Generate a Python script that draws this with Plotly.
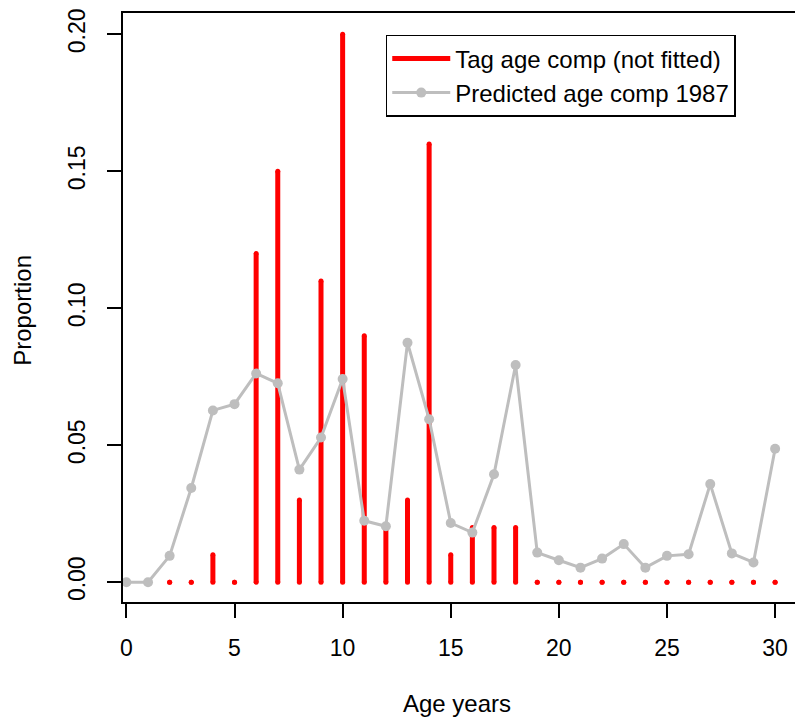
import plotly.graph_objects as go

ages = list(range(0, 31))
tag_ages = list(range(2, 31))
tag_comp = [0.00, 0.00, 0.01, 0.00, 0.12, 0.15, 0.03, 0.11, 0.20, 0.09,
            0.02, 0.03, 0.16, 0.01, 0.02, 0.02, 0.02, 0.00, 0.00, 0.00,
            0.00, 0.00, 0.00, 0.00, 0.00, 0.00, 0.00, 0.00, 0.00]
pred_comp = [0.000, 0.000, 0.0096, 0.0344, 0.0627, 0.0650, 0.0762, 0.0726,
             0.0411, 0.0528, 0.0742, 0.0224, 0.0204, 0.0874, 0.0595, 0.0216,
             0.0181, 0.0394, 0.0793, 0.0108, 0.0080, 0.0053, 0.0086, 0.0139,
             0.0053, 0.0096, 0.0102, 0.0358, 0.0105, 0.0072, 0.0487]
x_ticks = [0, 5, 10, 15, 20, 25, 30]
y_ticks = [0.00, 0.05, 0.10, 0.15, 0.20]
y_tick_labels = ["0.00", "0.05", "0.10", "0.15", "0.20"]

RED = "#FF0000"
GREY = "#BEBEBE"
FONT = "Liberation Sans, Arial, sans-serif"

# build vertical spikes (type="h")
bx, by = [], []
for a, v in zip(tag_ages, tag_comp):
    bx += [a, a, None]
    by += [0, v, None]

fig = go.Figure()
fig.add_trace(go.Scatter(x=bx, y=by, mode="lines", name="Tag age comp (not fitted)",
                         line=dict(color=RED, width=5), legendgroup="tag",
                         hoverinfo="skip"))
fig.add_trace(go.Scatter(x=bx, y=by, mode="markers", showlegend=False,
                         marker=dict(color=RED, size=5, line=dict(width=0)),
                         legendgroup="tag", hoverinfo="skip"))
fig.add_trace(go.Scatter(x=ages, y=pred_comp, mode="lines+markers",
                         name="Predicted age comp 1987",
                         line=dict(color=GREY, width=3),
                         marker=dict(color=GREY, size=10, line=dict(width=0))))

fig.update_layout(
    width=795, height=718,
    margin=dict(l=123, r=0, t=13, b=116),
    plot_bgcolor="white", paper_bgcolor="white",
    font=dict(family=FONT, size=23, color="black"),
    showlegend=True,
    legend=dict(x=0.391, y=0.963, xanchor="left", yanchor="top",
                bordercolor="black", borderwidth=1.5, bgcolor="white",
                font=dict(family=FONT, size=24, color="black"),
                itemwidth=58, tracegroupgap=0),
    xaxis=dict(range=[-0.157, 30.92], tickvals=x_ticks, ticks="outside",
               ticklen=14, tickwidth=1.5, tickcolor="black",
               showline=True, linecolor="black", linewidth=1.5, mirror=True,
               showgrid=False, zeroline=False, ticklabelstandoff=11,
               tickfont=dict(size=23)),
    yaxis=dict(range=[-0.00724, 0.2078], tickvals=y_ticks, ticktext=y_tick_labels,
               ticks="outside", ticklen=14, tickwidth=1.5, tickcolor="black",
               showline=True, linecolor="black", linewidth=1.5, mirror=False,
               showgrid=False, zeroline=False, tickangle=-90,
               ticklabelstandoff=13, tickfont=dict(size=23)),
    annotations=[
        dict(text="Age years", xref="paper", yref="paper", x=0.497, y=-0.172,
             showarrow=False, xanchor="center", yanchor="middle",
             font=dict(size=24)),
        dict(text="Proportion", xref="paper", yref="paper", x=-0.149, y=0.496,
             showarrow=False, xanchor="center", yanchor="middle", textangle=-90,
             font=dict(size=24)),
    ],
)

fig.write_html("out.html")
